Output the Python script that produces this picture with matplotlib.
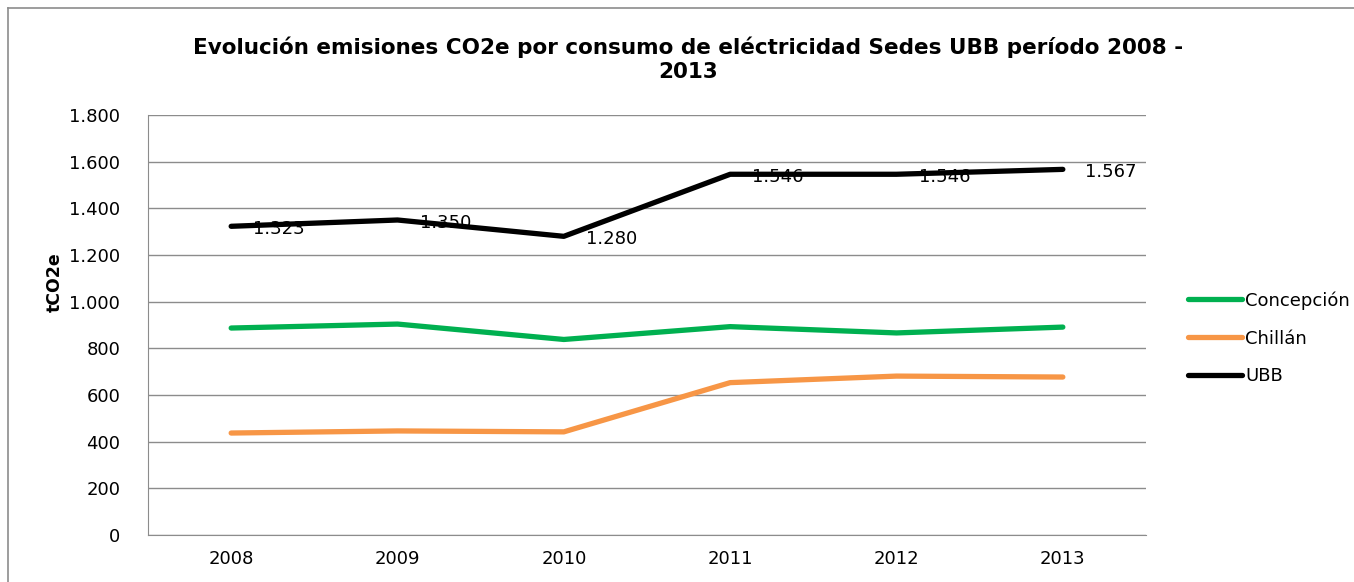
import numpy as np
import matplotlib.pyplot as plt
from matplotlib.lines import Line2D
from matplotlib.ticker import FuncFormatter

years = ["2008", "2009", "2010", "2011", "2012", "2013"]
concepcion = [887, 904, 838, 893, 866, 891]
chillan = [437, 446, 442, 653, 681, 677]
ubb = [1323, 1350, 1280, 1546, 1546, 1567]

W, H = 1354, 582
fig = plt.figure(figsize=(W / 100, H / 100), dpi=100)
# outer chart border (only top and left visible in the crop)
bx, by = 8 / W, 1 - 7.5 / H
fig.add_artist(Line2D([bx, 1], [by, by], transform=fig.transFigure, color="#8c8c8c", lw=1.2))
fig.add_artist(Line2D([bx, bx], [0, by], transform=fig.transFigure, color="#8c8c8c", lw=1.2))

ax = fig.add_axes([148 / W, 1 - 535 / H, (1146 - 148) / W, (535 - 115) / H])
x = np.arange(len(years))

ax.plot(x, concepcion, color="#00b050", lw=3.8, solid_capstyle="round", label="Concepción")
ax.plot(x, chillan, color="#f79646", lw=3.8, solid_capstyle="round", label="Chillán")
ax.plot(x, ubb, color="black", lw=3.8, solid_capstyle="round", label="UBB")


def fmt(v, pos=None):
    return f"{int(v):,}".replace(",", ".")


for xi, v in zip(x, ubb):
    ax.annotate(fmt(v), (xi, v), xytext=(16, -2), textcoords="offset points",
                ha="left", va="center", fontsize=13)

ax.set_xlim(-0.5, 5.5)
ax.set_ylim(0, 1800)
ax.set_yticks(np.arange(0, 1801, 200))
ax.yaxis.set_major_formatter(FuncFormatter(fmt))
ax.set_xticks(x)
ax.set_xticklabels(years)
ax.grid(axis="y", color="#8c8c8c", lw=1)
ax.set_axisbelow(True)
ax.tick_params(length=0, labelsize=13)
ax.tick_params(axis="x", pad=11)
ax.tick_params(axis="y", pad=20)
for s in ["top", "right"]:
    ax.spines[s].set_visible(False)
for s in ["left", "bottom"]:
    ax.spines[s].set_color("#8c8c8c")

fig.text(688 / W, 1 - 59 / H, "Evolución emisiones CO2e por consumo de eléctricidad Sedes UBB período 2008 -\n2013",
         ha="center", va="center", fontsize=15.5, fontweight="bold", linespacing=1.25)
fig.text(55 / W, 1 - 282 / H, "tCO2e", rotation=90, ha="center", va="center",
         fontsize=12.5, fontweight="bold")

ax.legend(loc="upper left", bbox_to_anchor=(1172 / W, 1 - 275 / H), bbox_transform=fig.transFigure,
          frameon=False, fontsize=13, handlelength=3.0, handletextpad=0.15, labelspacing=1.1)

fig.savefig("out.png", dpi=100)
